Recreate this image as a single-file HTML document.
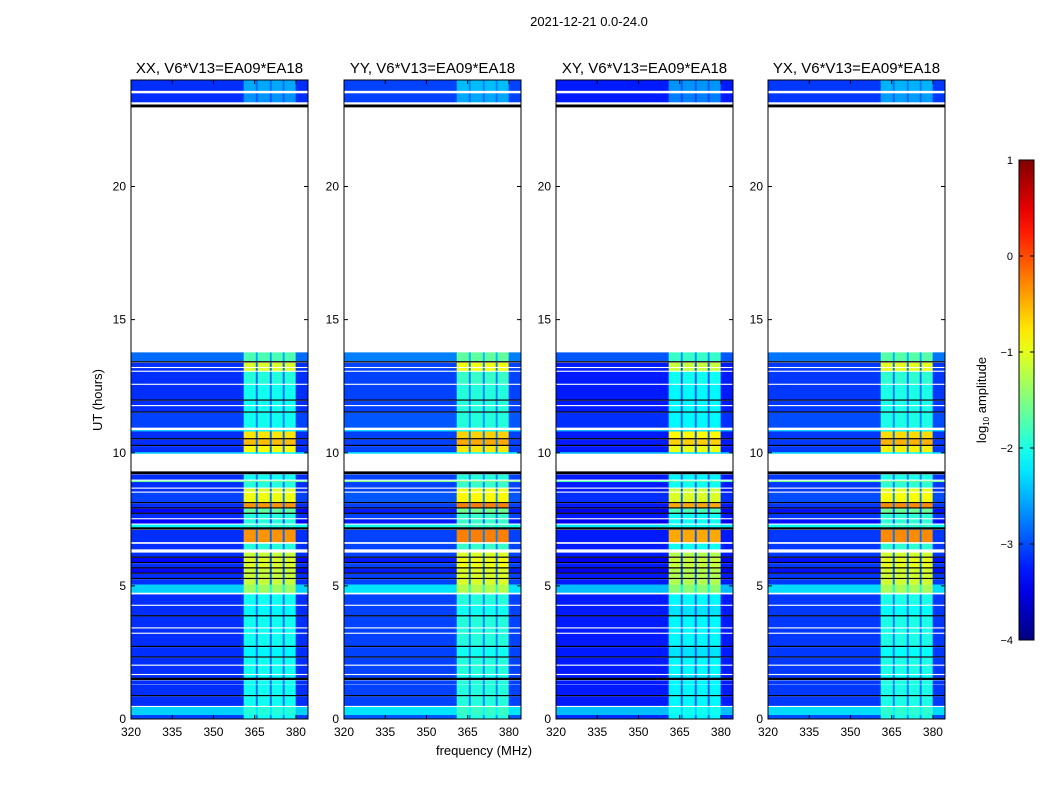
<!DOCTYPE html>
<html><head><meta charset="utf-8"><style>
body{margin:0;background:#fff;}
svg text{font-family:"Liberation Sans",sans-serif;fill:#000;}
</style></head><body>
<svg id="fig" width="1050" height="800" xmlns="http://www.w3.org/2000/svg">
<text x="589" y="26" font-size="13" text-anchor="middle">2021-12-21 0.0-24.0</text>
<text x="484" y="755" font-size="13" text-anchor="middle">frequency (MHz)</text>
<text x="102" y="400" font-size="13" text-anchor="middle" transform="rotate(-90 102 400)">UT (hours)</text>
<g id="panels"></g>
<g id="cbar"></g>
</svg>
<script>
// ---- data ----
const panelTitles = ["XX, V6*V13=EA09*EA18","YY, V6*V13=EA09*EA18","XY, V6*V13=EA09*EA18","YX, V6*V13=EA09*EA18"];
const panelOffsets = [-0.15, -0.05, -0.25, -0.1];
const xTicks = [320,335,350,365,380];
const yTicks = [0,5,10,15,20];
const cbTicks = [1,0,-1,-2,-3,-4];
// frequency segments: [start MHz, end MHz, kind]
const freqSegs = [[320,361,"bg"],[361,365.4,"rfi"],[365.4,366.1,"gap"],[366.1,370.5,"rfi"],[370.5,371.2,"gap"],[371.2,375.2,"rfi"],[375.2,375.9,"gap"],[375.9,379.9,"rfi"],[379.9,384.4,"bg"]];
// time rows: [start h, end h, background log amp, rfi log amp]; -9 = flagged black
const timeRows = [
[23.6,24,-3.0,-2.4],[23.17,23.5,-3.0,-2.5],[22.98,23.08,-9,-9],
[13.45,13.77,-2.7,-1.6],[13.4,13.44,-9,-9],[13.23,13.38,-3.0,-0.9],[13.09,13.18,-3.0,-0.9],[12.6,13.04,-3.0,-1.8],
[12.0,12.55,-3.0,-1.9],[11.96,12.0,-9,-9],[11.8,11.95,-3.0,-1.9],[11.55,11.75,-3.0,-1.9],[11.51,11.55,-9,-9],
[10.95,11.5,-2.9,-1.9],[10.8,10.85,-2.3,-2.0],[10.55,10.8,-3.0,-0.6],[10.51,10.55,-9,-9],[10.3,10.5,-3.0,-0.4],[10.26,10.3,-9,-9],[10.02,10.25,-3.0,-0.7],[9.97,10.02,-2.2,-2.0],
[9.2,9.3,-9,-9],[9.0,9.18,-3.0,-1.9],[8.9,8.95,-1.5,-1.5],[8.7,8.9,-3.0,-1.8],[8.55,8.65,-3.0,-0.9],
[8.15,8.5,-2.9,-0.8],[8.11,8.15,-9,-9],[7.95,8.1,-3.0,-0.2],[7.91,7.95,-9,-9],[7.75,7.9,-3.2,-1.5],[7.71,7.75,-9,-9],
[7.55,7.7,-3.0,-1.8],[7.35,7.5,-3.2,-1.8],[7.2,7.3,-2.0,-1.8],[7.12,7.2,-9,-9],
[6.65,7.1,-3.0,-0.2],[6.38,6.58,-3.0,-1.8],
[6.1,6.25,-3.0,-1.0],[6.06,6.1,-9,-9],[5.9,6.05,-3.2,-0.9],[5.86,5.9,-9,-9],[5.7,5.85,-3.0,-0.9],[5.66,5.7,-9,-9],[5.5,5.65,-3.2,-1.0],[5.46,5.5,-9,-9],[5.3,5.45,-3.0,-1.0],[5.26,5.3,-9,-9],[5.05,5.25,-3.0,-1.0],
[4.75,5.05,-2.2,-1.2],
[4.3,4.68,-3.0,-1.9],[3.9,4.25,-3.0,-2.0],[3.86,3.9,-9,-9],[3.45,3.85,-3.0,-1.9],[3.25,3.4,-3.0,-1.9],
[2.75,3.2,-3.0,-1.9],[2.71,2.75,-9,-9],[2.35,2.7,-3.0,-2.0],[2.31,2.35,-9,-9],[2.05,2.3,-3.0,-1.9],[1.7,2.0,-3.0,-1.9],
[1.55,1.65,-3.0,-2.0],[1.47,1.55,-9,-9],[1.3,1.45,-3.0,-1.9],[0.9,1.28,-3.0,-1.9],[0.86,0.9,-9,-9],[0.5,0.85,-3.0,-1.9],[0.15,0.45,-2.2,-1.8],[0,0.15,-2.9,-1.9]
];
// ---- rendering ----
const NS="http://www.w3.org/2000/svg";
const panelLefts=[131,344,556,768], PW=177, PT=80, PB=719;
const fMin=320,fMax=384.4,tMin=0,tMax=24,vMin=-4,vMax=1;
function jet(v){let t=(v-vMin)/(vMax-vMin);t=Math.max(0,Math.min(1,t));
 const r=Math.max(0,Math.min(1,1.5-Math.abs(4*t-3))),g=Math.max(0,Math.min(1,1.5-Math.abs(4*t-2))),b=Math.max(0,Math.min(1,1.5-Math.abs(4*t-1)));
 return `rgb(${Math.round(r*255)},${Math.round(g*255)},${Math.round(b*255)})`;}
function mk(tag,attrs,parent){const e=document.createElementNS(NS,tag);for(const k in attrs)e.setAttribute(k,attrs[k]);parent.appendChild(e);return e;}
const panels=document.getElementById('panels');
panelLefts.forEach((L,pi)=>{
 const xs=f=>L+(f-fMin)/(fMax-fMin)*PW;
 const ys=h=>PB-(h-tMin)/(tMax-tMin)*(PB-PT);
 const g=mk('g',{},panels);
 
 
 mk('rect',{x:L,y:PT,width:PW,height:PB-PT,fill:'#fff'},g);
 timeRows.forEach(r=>{
  freqSegs.forEach(s=>{
   let v;
   if(r[2]<=-9) v=null;
   else v = s[2]==="bg"?r[2]:(s[2]==="rfi"?r[3]:Math.min(r[3],r[2]+0.6)-0.3);
   const c=mk('rect',{x:xs(s[0]),y:ys(r[1]),width:xs(s[1])-xs(s[0])+0.3,height:ys(r[0])-ys(r[1])+0.2,fill:v===null?'#000':jet(v+panelOffsets[pi])},g);
   
   
  });
 });
 mk('rect',{x:L,y:PT,width:PW,height:PB-PT,fill:'none',stroke:'#000','stroke-width':1},g);
 const t=mk('text',{x:L+PW/2,y:73,'font-size':15,'text-anchor':'middle'},g);t.textContent=panelTitles[pi];
 
 
 xTicks.forEach(f=>{const x=xs(f);mk('line',{x1:x,x2:x,y1:PB,y2:PB-4,stroke:'#000'},g);mk('line',{x1:x,x2:x,y1:PT,y2:PT+4,stroke:'#000'},g);
  const tx=mk('text',{x:x,y:736,'font-size':12,'text-anchor':'middle'},g);tx.textContent=f;
  
  });
 yTicks.forEach(h=>{const y=ys(h);mk('line',{x1:L,x2:L+4,y1:y,y2:y,stroke:'#000'},g);mk('line',{x1:L+PW,x2:L+PW-4,y1:y,y2:y,stroke:'#000'},g);
  const ty=mk('text',{x:L-5,y:y+4,'font-size':12,'text-anchor':'end'},g);ty.textContent=h;
  
  });
});
// colorbar
const cb=document.getElementById('cbar');
const CX=1019,CW=15,CT=160,CB=640;
const cys=v=>CB-(v-vMin)/(vMax-vMin)*(CB-CT);
const defs=mk('defs',{},cb);const lg=mk('linearGradient',{id:'jetg',x1:0,y1:1,x2:0,y2:0},defs);
for(let i=0;i<=20;i++){mk('stop',{offset:i/20,'stop-color':jet(vMin+(vMax-vMin)*i/20)},lg);}
mk('rect',{x:CX,y:CT,width:CW,height:CB-CT,fill:'url(#jetg)',stroke:'#000'},cb);
cbTicks.forEach(v=>{const y=cys(v);mk('line',{x1:CX,x2:CX+4,y1:y,y2:y,stroke:'#000'},cb);mk('line',{x1:CX+CW,x2:CX+CW-4,y1:y,y2:y,stroke:'#000'},cb);
 const t=mk('text',{x:1013,y:y+4,'font-size':11,'text-anchor':'end'},cb);t.textContent=v<0?'\u2212'+(-v):v;
 
 });
const cl=mk('text',{x:986,y:400,'font-size':13,'text-anchor':'middle',transform:'rotate(-90 986 400)'},cb);
cl.innerHTML='log<tspan font-size="8" dy="3">10</tspan><tspan dy="-3"> amplitude</tspan>';


</script>
</body></html>
